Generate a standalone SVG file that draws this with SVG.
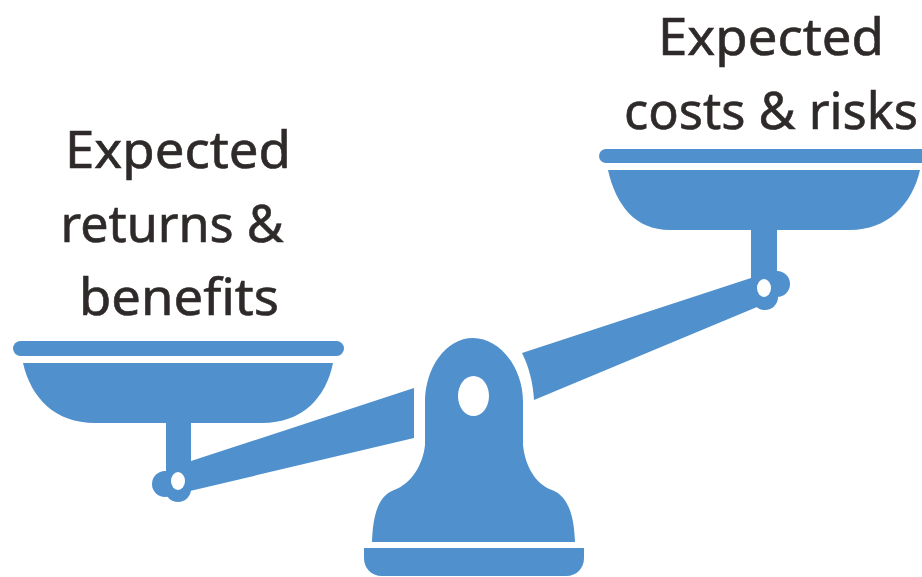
<svg xmlns="http://www.w3.org/2000/svg" width="922" height="577" viewBox="0 0 922 577">
<style>
.s{fill:#4f90cd}
.h{fill:#fff}
.t{font-family:"Noto Sans","Liberation Sans",sans-serif;font-size:51px;fill:#2f2a2a;stroke:#2f2a2a;stroke-width:.6px;text-anchor:middle}
</style>
<rect width="922" height="577" fill="#fff"/>
<g id="left-pan">
<rect class="s" x="13" y="341" width="331" height="15" rx="7.500"/>
<path class="s" d="M23 363H333C326 398 302 423 262 423H191V461L414 388V438L190 491L166 490V423H95C55 423 31 398 23 363Z"/>
<circle class="s" cx="165" cy="484" r="13"/>
<circle class="s" cx="178" cy="489" r="13"/>
<circle class="s" cx="178" cy="481" r="13"/>
<ellipse class="h" cx="178" cy="481" rx="7" ry="9"/>
</g>
<g id="right-pan">
<rect class="s" x="599" y="149" width="330" height="14" rx="7"/>
<path class="s" d="M608 170H920C912 205 887 230 850 230H777V280L757 307L534 400C533 383 529 367 522 353L751 278V230H670C635 230 616 205 608 170Z"/>
<circle class="s" cx="777" cy="284" r="13"/>
<circle class="s" cx="765" cy="297" r="13"/>
<circle class="s" cx="765" cy="288" r="13"/>
<ellipse class="h" cx="764" cy="288" rx="7" ry="9"/>
</g>
<g id="fulcrum">
<path class="s" d="M473 338C500 338 523 368 523 402V445C525 465 535 484 552 490C568 496 574 515 575 542H372C373 515 378 496 394 490C411 484 423 465 425 445V402C425 368 446 338 473 338Z"/>
<ellipse class="h" cx="473.500" cy="396" rx="15.500" ry="20"/>
<path class="s" d="M364 548H584V558C584 568 577 576 566 576H382C371 576 364 568 364 558Z"/>
</g>
<g id="labels">
<text class="t" x="178" y="168" textLength="226" lengthAdjust="spacingAndGlyphs">Expected</text>
<text class="t" x="172" y="242" textLength="223" lengthAdjust="spacingAndGlyphs">returns &amp;</text>
<text class="t" x="179" y="315" textLength="200" lengthAdjust="spacingAndGlyphs">benefits</text>
<text class="t" x="771" y="55" textLength="226" lengthAdjust="spacingAndGlyphs">Expected</text>
<text class="t" x="771" y="129" textLength="294" lengthAdjust="spacingAndGlyphs">costs &amp; risks</text>
</g>
</svg>
